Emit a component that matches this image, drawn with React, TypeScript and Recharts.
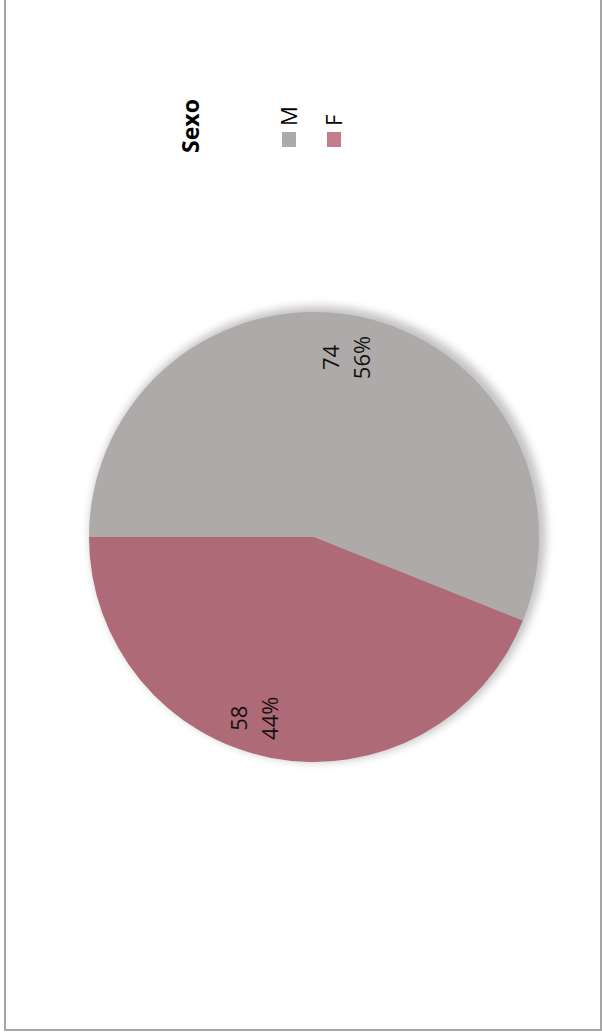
import { PieChart, Pie, Cell, Legend } from 'recharts'

const categories = ['M', 'F']
const counts = [74, 58]
const sliceColors = ['#aeaaa9', '#ae6a76']
const legendColors = ['#aeaaa9', '#c27d89']
const legendTitle = 'Sexo'

// Excel "best fit" placement: small angle shift and radius per slice
const labelAngleShift = [1, -7.7]
const labelRadius = [0.81, 0.85]

const data = categories.map((name, i) => ({ name, value: counts[i] }))

const RAD = Math.PI / 180
const FONT = '"Open Sans", sans-serif'

function renderLabel(props: any) {
  const { cx, cy, midAngle, outerRadius, value, percent, index } = props
  const a = midAngle + (labelAngleShift[index] || 0)
  const r = outerRadius * (labelRadius[index] || 0.8)
  const x = cx + r * Math.cos(-a * RAD)
  const y = cy + r * Math.sin(-a * RAD)
  return (
    <g transform={`rotate(-90, ${x}, ${y})`} fontFamily={FONT} fontSize={22} fill="#111">
      <text x={x} y={y - 15} textAnchor="middle" dominantBaseline="central">
        {value}
      </text>
      <text x={x} y={y + 16} textAnchor="middle" dominantBaseline="central">
        {`${Math.round((percent || 0) * 100)}%`}
      </text>
    </g>
  )
}

function LegendContent() {
  return (
    <svg width={602} height={200} style={{ display: 'block' }}>
      <text
        transform="rotate(-90, 199, 126)"
        x={199}
        y={126}
        textAnchor="middle"
        fontFamily={FONT}
        fontWeight="bold"
        fontSize={23}
        fill="#000"
      >
        {legendTitle}
      </text>
      {categories.map((name, i) => {
        const x = 282 + i * 45
        return (
          <g key={name}>
            <rect x={x} y={132} width={14} height={15} fill={legendColors[i]} />
            <text
              transform={`rotate(-90, ${x + 15}, 126)`}
              x={x + 15}
              y={126}
              textAnchor="start"
              fontFamily={FONT}
              fontSize={22}
              fill="#000"
            >
              {name}
            </text>
          </g>
        )
      })}
    </svg>
  )
}

export default function App() {
  return (
    <div
      style={{
        position: 'absolute',
        left: 0,
        top: 0,
        width: 602,
        height: 1034,
        background: '#fff',
      }}
    >
      <div
        style={{
          position: 'absolute',
          left: 4,
          top: -10,
          width: 594,
          height: 1039,
          borderLeft: '2px solid #a6a6a6',
          borderRight: '2px solid #a6a6a6',
          borderBottom: '2px solid #a6a6a6',
        }}
      />
      <PieChart
        width={602}
        height={1034}
        margin={{ top: 0, right: 0, bottom: 0, left: 0 }}
        style={{ position: 'absolute', left: 0, top: 0 }}
      >
        <Pie
          data={[{ name: 'shadow', value: 1 }]}
          dataKey="value"
          cx={318}
          cy={534}
          outerRadius={228}
          startAngle={0}
          endAngle={360}
          stroke="none"
          isAnimationActive={false}
          legendType="none"
        >
          <Cell fill="#c4c4c4" style={{ filter: 'blur(4px)' }} />
        </Pie>
        <Pie
          data={data}
          dataKey="value"
          cx={314}
          cy={537}
          outerRadius={225}
          startAngle={180}
          endAngle={-180}
          stroke="none"
          label={renderLabel}
          labelLine={false}
          isAnimationActive={false}
        >
          {data.map((_, i) => (
            <Cell key={i} fill={sliceColors[i]} />
          ))}
        </Pie>
        <Legend
          content={LegendContent}
          wrapperStyle={{ position: 'absolute', left: 0, top: 0, width: 602, height: 200 }}
        />
      </PieChart>
    </div>
  )
}
